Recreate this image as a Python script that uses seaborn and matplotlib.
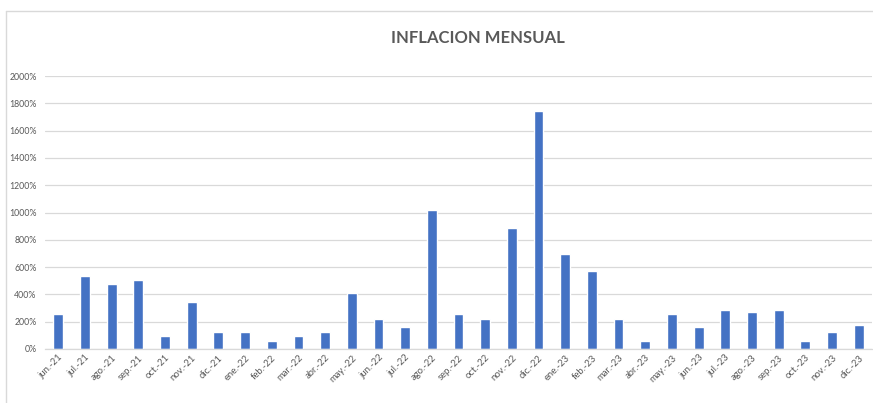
import numpy as np
import pandas as pd
import seaborn as sns
import matplotlib.pyplot as plt
from matplotlib.lines import Line2D
from matplotlib.ticker import FuncFormatter, MultipleLocator, FixedLocator

# ----------------------------------------
# Datos
# ----------------------------------------
meses = ["jun.-21", "jul.-21", "ago.-21", "sep.-21", "oct.-21", "nov.-21", "dic.-21",
         "ene.-22", "feb.-22", "mar.-22", "abr.-22", "may.-22", "jun.-22", "jul.-22",
         "ago.-22", "sep.-22", "oct.-22", "nov.-22", "dic.-22", "ene.-23", "feb.-23",
         "mar.-23", "abr.-23", "may.-23", "jun.-23", "jul.-23", "ago.-23", "sep.-23",
         "oct.-23", "nov.-23", "dic.-23"]
inflacion = [255, 535, 478, 505, 95, 345, 125,
             125, 60, 95, 125, 410, 220, 160,
             1015, 255, 220, 885, 1745, 695, 570,
             220, 60, 255, 160, 285, 270, 285,
             60, 125, 175]

df = pd.DataFrame({'mes': meses, 'inflacion': inflacion})

gris_texto = '#595959'
gris_linea = '#d9d9d9'

sns.set_style('white')
plt.rcParams['font.family'] = ['Lato', 'DejaVu Sans']

fig = plt.figure(figsize=(8.73, 4.03), dpi=100)
ax = fig.add_axes([45 / 873, 1 - 349 / 403, 827 / 873, 273 / 403])

sns.barplot(data=df, x='mes', y='inflacion', color='#4472C4', width=0.37,
            saturation=1, ax=ax)

ax.set_xlim(-0.5, len(meses) - 0.5)
ax.set_ylim(0, 2000)
ax.yaxis.set_major_locator(MultipleLocator(200))
ax.yaxis.set_major_formatter(FuncFormatter(lambda v, p: f"{int(v)}%"))
ax.grid(axis='y', color=gris_linea, linewidth=0.9)
ax.set_axisbelow(True)

for s in ['top', 'right', 'left']:
    ax.spines[s].set_visible(False)
ax.spines['bottom'].set_color(gris_linea)
ax.spines['bottom'].set_linewidth(0.9)

ax.set_xlabel('')
ax.set_ylabel('')
ax.tick_params(axis='y', length=0, labelsize=6.3, labelcolor=gris_texto, pad=6)
ax.tick_params(axis='x', which='major', length=0, labelsize=6.8, labelcolor=gris_texto, pad=3)
for lbl in ax.get_xticklabels():
    lbl.set_rotation(45)
    lbl.set_ha('right')
    lbl.set_rotation_mode('anchor')

# marcas entre categorias, estilo Excel
ax.xaxis.set_minor_locator(FixedLocator(np.arange(-0.5, len(meses), 1)))
ax.tick_params(axis='x', which='minor', length=4, color=gris_linea, width=0.9)

fig.text(478 / 873, 1 - 38 / 403, 'INFLACION MENSUAL', ha='center', va='center',
         fontsize=12, fontweight='bold', color=gris_texto)

# borde del area del grafico
fig.add_artist(Line2D([6 / 873, 6 / 873], [0, 1 - 11 / 403], color=gris_linea, lw=1))
fig.add_artist(Line2D([6 / 873, 1], [1 - 11 / 403, 1 - 11 / 403], color=gris_linea, lw=1))

fig.savefig('out.png', dpi=100)
